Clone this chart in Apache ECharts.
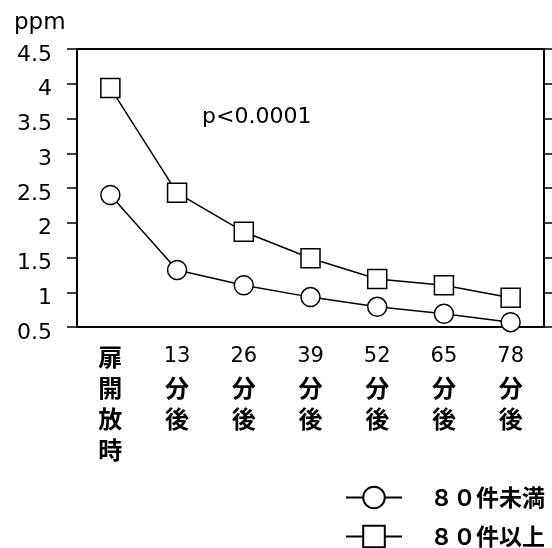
<!DOCTYPE html>
<html>
<head>
<meta charset="utf-8">
<script src="https://cdn.jsdelivr.net/npm/echarts@6/dist/echarts.min.js"></script>
<style>
  html, body { margin: 0; padding: 0; background: #fff; }
  #chart { width: 552px; height: 548px; }
</style>
</head>
<body>
<div id="chart"></div>
<script>
// 横軸（経過時間）
var categories = ['扉開放時', '13分後', '26分後', '39分後', '52分後', '65分後', '78分後'];
// 系列名
var seriesNames = ['８０件未満', '８０件以上'];
// 値 (ppm)
var under80 = [2.40, 1.32, 1.10, 0.93, 0.79, 0.69, 0.57];
var over80 = [3.94, 2.43, 1.87, 1.49, 1.19, 1.10, 0.92];
// 縦軸
var yMin = 0.5, yMax = 4.5, yStep = 0.5;

var latin = '"DejaVu Sans", sans-serif';
var cjk = '"Noto Sans CJK JP", sans-serif';

var myChart = echarts.init(document.getElementById('chart'));

var lineStyle = { color: '#000', width: 1.5 };
var markStyle = { color: '#fff', borderColor: '#000', borderWidth: 1.5 };

// 縦書きラベル: 数字は1行, 漢字は1文字ずつ
function tateLabel(v) {
    var m = v.match(/^(\d*)(.*)$/);
    var lines = [];
    if (m[1]) lines.push('{n|' + m[1] + '}');
    m[2].split('').forEach(function (c) { lines.push('{c|' + c + '}'); });
    return lines.join('\n');
}

var option = {
    animation: false,
    backgroundColor: '#fff',
    textStyle: { fontFamily: latin, color: '#000' },
    grid: { left: 77, right: 8, top: 49, bottom: 221 },
    legend: {
        orient: 'vertical',
        right: 7,
        top: 484,
        height: 72,
        padding: 0,
        itemWidth: 56,
        itemHeight: 27,
        itemGap: 12,
        data: seriesNames,
        textStyle: { fontFamily: cjk, fontSize: 23, lineHeight: 27, fontWeight: 'bold', color: '#000', padding: [0, 0, 0, 23] }
    },
    graphic: [
        { type: 'text', left: 14, top: 12, style: { text: 'ppm', font: '23px ' + latin, fill: '#000' } },
        { type: 'text', left: 202, top: 106, style: { text: 'p<0.0001', font: '22px ' + latin, fill: '#000' } }
    ],
    xAxis: [{
        type: 'category',
        position: 'bottom',
        data: categories,
        axisLine: { lineStyle: { color: '#000', width: 2 } },
        axisTick: { alignWithLabel: true, length: 6, lineStyle: { color: '#000', width: 1.5 } },
        axisLabel: {
            margin: 14,
            color: '#000',
            formatter: tateLabel,
            rich: {
                n: { fontFamily: latin, fontSize: 21, lineHeight: 31, color: '#000' },
                c: { fontFamily: cjk, fontSize: 24, fontWeight: 'bold', lineHeight: 31, color: '#000' }
            }
        }
    }, {
        type: 'category',
        position: 'top',
        data: categories,
        axisLine: { lineStyle: { color: '#000', width: 2 } },
        axisTick: { alignWithLabel: true, length: 6, lineStyle: { color: '#000', width: 1.5 } },
        axisLabel: { show: false }
    }],
    yAxis: [{
        type: 'value',
        position: 'left',
        min: yMin,
        max: yMax,
        interval: yStep,
        splitLine: { show: false },
        axisLine: { show: true, lineStyle: { color: '#000', width: 2 } },
        axisTick: { show: true, length: 10, lineStyle: { color: '#000', width: 1.5 } },
        axisLabel: { margin: 25, fontSize: 22, color: '#000', fontFamily: latin, verticalAlign: 'top', lineHeight: 12 }
    }, {
        type: 'value',
        position: 'right',
        min: yMin,
        max: yMax,
        interval: yStep,
        splitLine: { show: false },
        axisLine: { show: true, lineStyle: { color: '#000', width: 2 } },
        axisTick: { show: true, length: 8, lineStyle: { color: '#000', width: 1.5 } },
        axisLabel: { show: false }
    }],
    series: [{
        name: seriesNames[0],
        type: 'line',
        data: under80,
        symbol: 'circle',
        symbolSize: 19,
        showAllSymbol: true,
        lineStyle: lineStyle,
        itemStyle: markStyle
    }, {
        name: seriesNames[1],
        type: 'line',
        data: over80,
        symbol: 'rect',
        symbolSize: 19,
        showAllSymbol: true,
        lineStyle: lineStyle,
        itemStyle: markStyle
    }]
};

myChart.setOption(option);
</script>
</body>
</html>
